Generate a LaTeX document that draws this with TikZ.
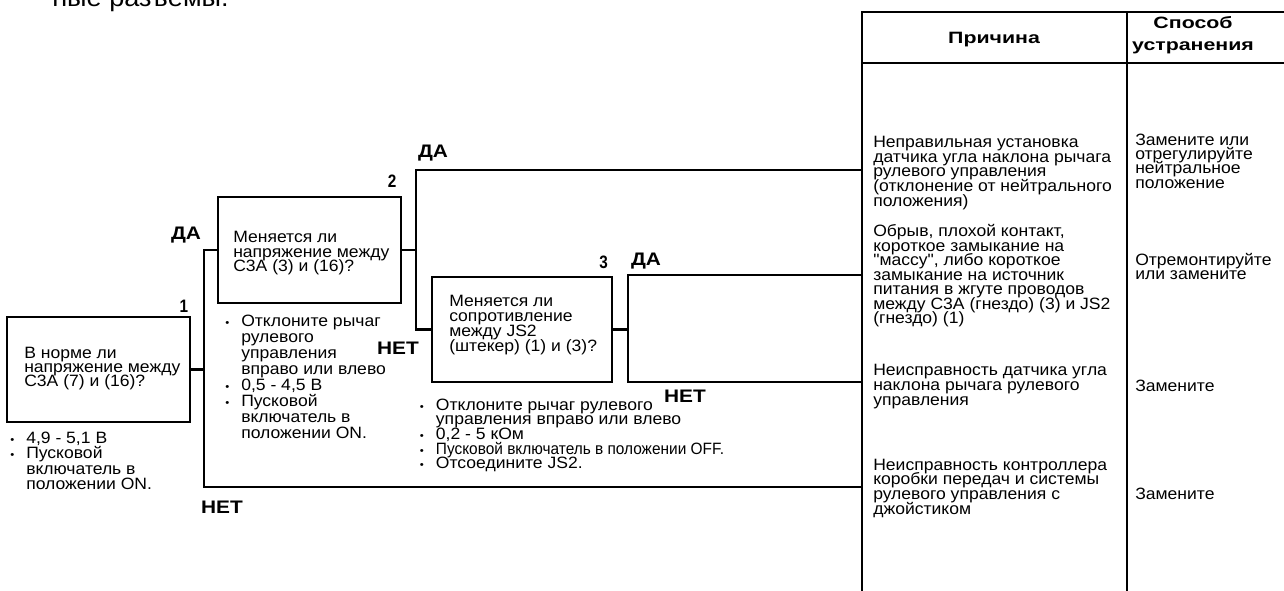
\documentclass[tikz,border=0pt]{standalone}
\usepackage{fontspec}
\setmainfont{Liberation Sans}[FakeStretch=1.07]
\newfontfamily\narrowfont{Liberation Sans}[FakeStretch=0.94]
\newfontfamily\headfont{Liberation Sans}[FakeStretch=1.3]
\newfontfamily\ynfont{Liberation Sans}[FakeStretch=1.15]
\newfontfamily\numfont{Liberation Sans}[FakeStretch=0.85]
\newfontfamily\quotefont{Liberation Sans}[FakeStretch=1.07, Ligatures=ResetAll]

% a block of lines with a fixed leading; its baseline is that of its first line
\newcommand\blk[2]{\vtop{\baselineskip=#1\relax\lineskiplimit=-50pt\lineskip=0pt\relax #2}}
\newcommand\lineof[1]{\hbox{#1}}
\newcommand\bul{\llap{\makebox[21pt][c]{\fontsize{8pt}{8pt}\selectfont •}}}
\newcommand\dq{{\quotefont"}}

\begin{document}
\begin{tikzpicture}[x=0.75pt,y=-0.75pt,
  wire/.style={line width=2.2pt},
  qbox/.style={draw, rectangle, line width=2.2pt, inner sep=0pt},
  txt/.style={anchor=base west, inner sep=0pt, font=\fontsize{12.3pt}{14pt}\selectfont},
  yn/.style={inner sep=0pt, font=\ynfont\bfseries\fontsize{13.6pt}{14pt}\selectfont},
  num/.style={inner sep=0pt, font=\numfont\bfseries\fontsize{13.5pt}{14pt}\selectfont},
  head/.style={anchor=base, inner sep=0pt, font=\headfont\bfseries\fontsize{12.3pt}{14pt}\selectfont}]
\useasboundingbox (0,0) rectangle (1284,590);

% heading line running on from the previous page
\node[anchor=base west, inner sep=0pt, font=\fontsize{19pt}{19pt}\selectfont] (cut) at (52,6) {ные разъемы.};

% question boxes
\node[qbox, minimum width=137.25pt, minimum height=78.75pt] (b1) at (98.5,369.5) {};
\node[qbox, minimum width=137.25pt, minimum height=79.5pt] (b2) at (309.5,250) {};
\node[qbox, minimum width=135pt, minimum height=78.75pt] (b3) at (522,329.5) {};

% junction points and table corners
\coordinate (j1top) at (204,250);
\coordinate (j1bot) at (204,487);
\coordinate (j2top) at (416,170);
\coordinate (j2bot) at (416,329.5);
\coordinate (j3top) at (628,275);
\coordinate (j3bot) at (628,382);
\coordinate (tabTL) at (862,12);
\coordinate (tabBL) at (862,596);
\coordinate (colT) at (1127,12);
\coordinate (colB) at (1127,596);
\coordinate (tabTR) at (1290,12);
\coordinate (hdL) at (862,63);
\coordinate (hdR) at (1290,63);

% connectors
\draw[wire] (b1.east) -- (b1.east -| j1top);
\draw[wire] (b2.west) -- (j1top) -- (j1bot) -- (j1bot -| tabTL);
\draw[wire] (b2.east) -- (b2.east -| j2top);
\draw[wire] (j2top -| tabTL) -- (j2top) -- (j2bot) -- (b3.west);
\draw[wire] (b3.east) -- (b3.east -| j3top);
\draw[wire] (j3top -| tabTL) -- (j3top) -- (j3bot) -- (j3bot -| tabTL);

% table frame
\draw[wire] (tabBL) -- (tabTL) -- (tabTR);
\draw[wire] (colT) -- (colB);
\draw[wire] (hdL) -- (hdR);

% box numbers
\node[num] (n1) at (184,306) {1};
\node[num] (n2) at (392,181.7) {2};
\node[num] (n3) at (603.5,262.5) {3};

% branch labels
\node[yn] (yes1) at (186,235) {ДА};
\node[yn] (yes2) at (433,152.7) {ДА};
\node[yn] (yes3) at (646,261) {ДА};
\node[yn] (no1) at (222,507.5) {НЕТ};
\node[yn] (no2) at (398,348.3) {НЕТ};
\node[yn] (no3) at (685,396.7) {НЕТ};

% questions
\node[txt] (q1) at (24,358.3) {\blk{10.4pt}{\lineof{В норме ли}\lineof{напряжение между}\lineof{С3А (7) и (16)?}}};
\node[txt] (q2) at (233,242.7) {\blk{10.9pt}{\lineof{Меняется ли}\lineof{напряжение между}\lineof{С3А (3) и (16)?}}};
\node[txt] (q3) at (449,306.7) {\blk{11.2pt}{\lineof{Меняется ли}\lineof{сопротивление}\lineof{между JS2}\lineof{(штекер) (1) и (3)?}}};

% check conditions
\node[txt] (c1) at (26,443.3) {\blk{11.6pt}{\lineof{\bul 4,9 - 5,1 В}\lineof{\bul Пусковой}\lineof{включатель в}\lineof{положении ON.}}};
\node[txt] (c2) at (241,326) {\blk{12pt}{\lineof{\bul Отклоните рычаг}\lineof{рулевого}\lineof{управления}\lineof{вправо или влево}\lineof{\bul 0,5 - 4,5 В}\lineof{\bul Пусковой}\lineof{включатель в}\lineof{положении ON.}}};
\node[txt] (c3) at (435.7,410) {\blk{11.06pt}{\lineof{\bul Отклоните рычаг рулевого}\lineof{управления вправо или влево}\lineof{\bul 0,2 - 5 кОм}\lineof{\bul {\narrowfont Пусковой включатель в положении OFF.}}\lineof{\bul Отсоедините JS2.}}};

% table header
\node[head] (h1) at (994,43.3) {Причина};
\node[head] (h2a) at (1193,28.3) {Способ};
\node[head] (h2b) at (1193,50) {устранения};

% causes
\node[txt] (r1) at (873,147.3) {\blk{11.1pt}{\lineof{Неправильная установка}\lineof{датчика угла наклона рычага}\lineof{рулевого управления}\lineof{(отклонение от нейтрального}\lineof{положения)}}};
\node[txt] (r2) at (873,236.7) {\blk{10.9pt}{\lineof{Обрыв, плохой контакт,}\lineof{короткое замыкание на}\lineof{\dq массу\dq, либо короткое}\lineof{замыкание на источник}\lineof{питания в жгуте проводов}\lineof{между С3А (гнездо) (3) и JS2}\lineof{(гнездо) (1)}}};
\node[txt] (r3) at (873,375) {\blk{11.5pt}{\lineof{Неисправность датчика угла}\lineof{наклона рычага рулевого}\lineof{управления}}};
\node[txt] (r4) at (873,470) {\blk{11pt}{\lineof{Неисправность контроллера}\lineof{коробки передач и системы}\lineof{рулевого управления с}\lineof{джойстиком}}};

% remedies
\node[txt] (m1) at (1135,145) {\blk{10.8pt}{\lineof{Замените или}\lineof{отрегулируйте}\lineof{нейтральное}\lineof{положение}}};
\node[txt] (m2) at (1135,265) {\blk{10.8pt}{\lineof{Отремонтируйте}\lineof{или замените}}};
\node[txt] (m3) at (1135,391.7) {Замените};
\node[txt] (m4) at (1135,499.3) {Замените};
\end{tikzpicture}
\end{document}
